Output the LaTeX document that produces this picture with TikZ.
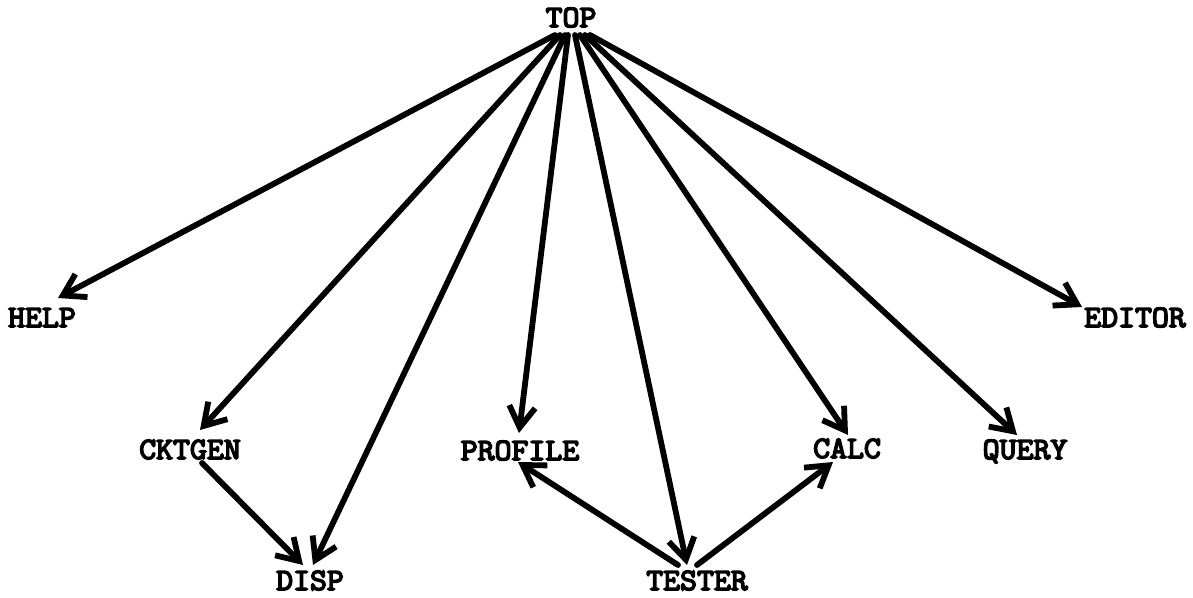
\documentclass[tikz,border=0pt]{standalone}
\usepackage{fontspec}
\newfontfamily\heavytt[FakeBold=5,FakeStretch=1.06]{Latin Modern Mono}
\usetikzlibrary{arrows.meta,calc}
\begin{document}
\begin{tikzpicture}[x=0.5pt,y=-0.5pt,
  lbl/.style={font=\heavytt\fontsize{15.5}{15.5}\selectfont,inner sep=0pt,text height=9pt,text depth=0pt},
  link/.style={line width=2.9pt,line cap=round,line join=round,
    -{Straight Barb[length=10.5pt,width=13pt,line width=2.9pt]}}]
\useasboundingbox[fill=white] (0,0) rectangle (1193,598);
% module names
\node[lbl] (top)     at (571,18)   {TOP};
\node[lbl] (help)    at (42,318)   {HELP};
\node[lbl] (editor)  at (1135,318) {EDITOR};
\node[lbl] (cktgen)  at (190,450)  {CKTGEN};
\node[lbl] (profile) at (520,451)  {PROFILE};
\node[lbl] (calc)    at (847,449)  {CALC};
\node[lbl] (query)   at (1025,450) {QUERY};
\node[lbl] (disp)    at (310,581)  {DISP};
\node[lbl] (tester)  at (697,581)  {TESTER};
% calls from the top level
\draw[link] ($(top)+(-16,17)$) -- ($(help)+(16,-20)$);
\draw[link] ($(top)+(-11,17)$) -- ($(cktgen)+(10,-20)$);
\draw[link] ($(top)+(-6,17)$)  -- ($(disp)+(3,-16)$);
\draw[link] ($(top)+(-3,17)$)  -- ($(profile)+(-1,-18)$);
\draw[link] ($(top)+(4,17)$)   -- ($(tester)+(-10,-16)$);
\draw[link] ($(top)+(9,17)$)   -- ($(calc)+(1,-14)$);
\draw[link] ($(top)+(14,17)$)  -- ($(query)+(-8,-15)$);
\draw[link] ($(top)+(19,17)$)  -- ($(editor)+(-53,-11)$);
% lower level calls
\draw[link] ($(cktgen)+(12,13)$)  -- ($(disp)+(-7,-16)$);
\draw[link] ($(tester)+(-19,-16)$) -- ($(profile)+(-2,11)$);
\draw[link] ($(tester)+(0,-16)$)   -- ($(calc)+(-14,13)$);
\end{tikzpicture}
\end{document}
